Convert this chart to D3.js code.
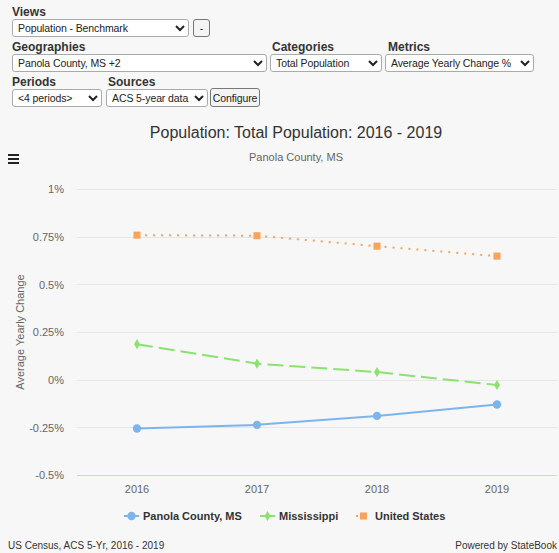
<!DOCTYPE html>
<html>
<head>
<meta charset="utf-8">
<script src="https://cdn.jsdelivr.net/npm/d3@7"></script>
<style>
  body { margin: 0; background: #f7f7f7; font-family: "Liberation Sans", Arial, sans-serif; }
  #page { position: relative; width: 559px; height: 553px; overflow: hidden; }
  .lbl { position: absolute; font-size: 12px; font-weight: bold; color: #333; }
  select, button { position: absolute; font-family: "Liberation Sans", Arial, sans-serif; font-size: 10.5px;
    letter-spacing: -0.1px; height: 18px; padding: 0 0 0 1px; border: 1px solid #aaa; border-radius: 3px;
    background: #fff; color: #222; }
  button { padding: 0 1px; background: #f4f4f4; border-color: #777; }
  #chart { position: absolute; left: 0; top: 0; }
</style>
</head>
<body>
<div id="page">
  <svg id="chart" width="559" height="553"></svg>
  <div class="lbl" style="left:12px;top:5px">Views</div>
  <select style="left:12px;top:19px;width:177px"><option>Population - Benchmark</option></select>
  <button style="left:193px;top:19px;width:17px">-</button>
  <div class="lbl" style="left:12px;top:40px">Geographies</div>
  <select style="left:12px;top:54px;width:255px"><option>Panola County, MS +2</option></select>
  <div class="lbl" style="left:272px;top:40px">Categories</div>
  <select style="left:270px;top:54px;width:112px"><option>Total Population</option></select>
  <div class="lbl" style="left:388px;top:40px">Metrics</div>
  <select style="left:385px;top:54px;width:149px"><option>Average Yearly Change %</option></select>
  <div class="lbl" style="left:12px;top:75px">Periods</div>
  <select style="left:12px;top:89px;width:90px"><option>&lt;4 periods&gt;</option></select>
  <div class="lbl" style="left:108px;top:75px">Sources</div>
  <select style="left:106px;top:89px;width:102px"><option>ACS 5-year data</option></select>
  <button style="left:210px;top:88px;width:50px;height:19px">Configure</button>
</div>
<script>
// categories and values (average yearly change, %)
var years = ["2016", "2017", "2018", "2019"];
var panola = [-0.256, -0.237, -0.19, -0.13];
var mississippi = [0.186, 0.084, 0.04, -0.028];
var unitedStates = [0.758, 0.755, 0.70, 0.648];
var yTicks = [-0.5, -0.25, 0, 0.25, 0.5, 0.75, 1];
var yTickLabels = ["-0.5%", "-0.25%", "0%", "0.25%", "0.5%", "0.75%", "1%"];

var seriesNames = ["Panola County, MS", "Mississippi", "United States"];
var seriesValues = [panola, mississippi, unitedStates];
var colors = ["#7cb5ec", "#8ae270", "#f7a35c"];
var dashes = [null, "16,6", "2,6"];
var symbols = [d3.symbolCircle, d3.symbolDiamond, d3.symbolSquare];
var symSizes = [55, 30, 50];

var svg = d3.select("#chart");

var x = d3.scaleBand().domain(years).range([77, 557]);
var y = d3.scaleLinear().domain([-0.5, 1]).range([475, 189]);
var cx = function(d) { return x(d) + x.bandwidth() / 2; };

// titles
svg.append("text").attr("x", 296).attr("y", 138).attr("text-anchor", "middle")
  .attr("font-size", 16).attr("fill", "#333").text("Population: Total Population: 2016 - 2019");
svg.append("text").attr("x", 296).attr("y", 161).attr("text-anchor", "middle")
  .attr("font-size", 11).attr("fill", "#666").text("Panola County, MS");

// menu icon
svg.selectAll(".menu").data([0, 1, 2]).enter().append("rect")
  .attr("x", 8).attr("y", function(d) { return 154 + d * 4; })
  .attr("width", 11).attr("height", 2).attr("fill", "#222");

// grid
svg.append("g").selectAll("line").data(yTicks).enter().append("line")
  .attr("x1", 77).attr("x2", 557)
  .attr("y1", function(d) { return Math.round(y(d)) + 0.5; })
  .attr("y2", function(d) { return Math.round(y(d)) + 0.5; })
  .attr("stroke", function(d) { return d === -0.5 ? "#ccd6eb" : "#e6e6e6"; });

// y axis labels
var yAxis = d3.axisLeft(y).tickValues(yTicks)
  .tickFormat(function(d, i) { return yTickLabels[i]; }).tickSize(0).tickPadding(0);
var ya = svg.append("g").attr("transform", "translate(64,0)").call(yAxis);
ya.select(".domain").remove();
ya.selectAll("text").attr("font-size", 11).attr("fill", "#666")
  .attr("font-family", "Liberation Sans, Arial, sans-serif").attr("dy", "0.35em");

svg.append("text").attr("transform", "translate(24,332) rotate(-90)")
  .attr("text-anchor", "middle").attr("font-size", 11).attr("fill", "#666")
  .text("Average Yearly Change");

// x axis labels
var xAxis = d3.axisBottom(x).tickSize(0).tickPadding(0);
var xa = svg.append("g").attr("transform", "translate(0,485)").call(xAxis);
xa.select(".domain").remove();
xa.selectAll("text").attr("font-size", 11).attr("fill", "#666")
  .attr("font-family", "Liberation Sans, Arial, sans-serif");

// series
var line = d3.line().x(function(d, i) { return cx(years[i]); }).y(function(d) { return y(d); });
seriesValues.forEach(function(vals, s) {
  var g = svg.append("g");
  g.append("path").datum(vals).attr("d", line).attr("fill", "none")
    .attr("stroke", colors[s]).attr("stroke-width", 2)
    .attr("stroke-dasharray", dashes[s]);
  g.selectAll("path.m").data(vals).enter().append("path").attr("class", "m")
    .attr("d", d3.symbol().type(symbols[s]).size(symSizes[s]))
    .attr("transform", function(d, i) { return "translate(" + cx(years[i]) + "," + y(d) + ")"; })
    .attr("fill", colors[s]);
});

// legend
var legendX = [124, 260, 356];
var legendTextX = [143, 279, 375];
seriesNames.forEach(function(name, s) {
  var g = svg.append("g").attr("transform", "translate(" + legendX[s] + ",516)");
  g.append("line").attr("x1", 0).attr("x2", 15).attr("stroke", colors[s]).attr("stroke-width", 2)
    .attr("stroke-dasharray", dashes[s]);
  g.append("path").attr("d", d3.symbol().type(symbols[s]).size(symSizes[s]))
    .attr("transform", "translate(7.5,0)").attr("fill", colors[s]);
  svg.append("text").attr("x", legendTextX[s]).attr("y", 520)
    .attr("font-size", 11).attr("font-weight", "bold").attr("fill", "#333").text(name);
});

// footer
svg.append("text").attr("x", 8).attr("y", 549).attr("font-size", 10).attr("fill", "#333")
  .text("US Census, ACS 5-Yr, 2016 - 2019");
svg.append("text").attr("x", 557).attr("y", 549).attr("text-anchor", "end")
  .attr("font-size", 10).attr("fill", "#333").text("Powered by StateBook");
</script>
</body>
</html>
